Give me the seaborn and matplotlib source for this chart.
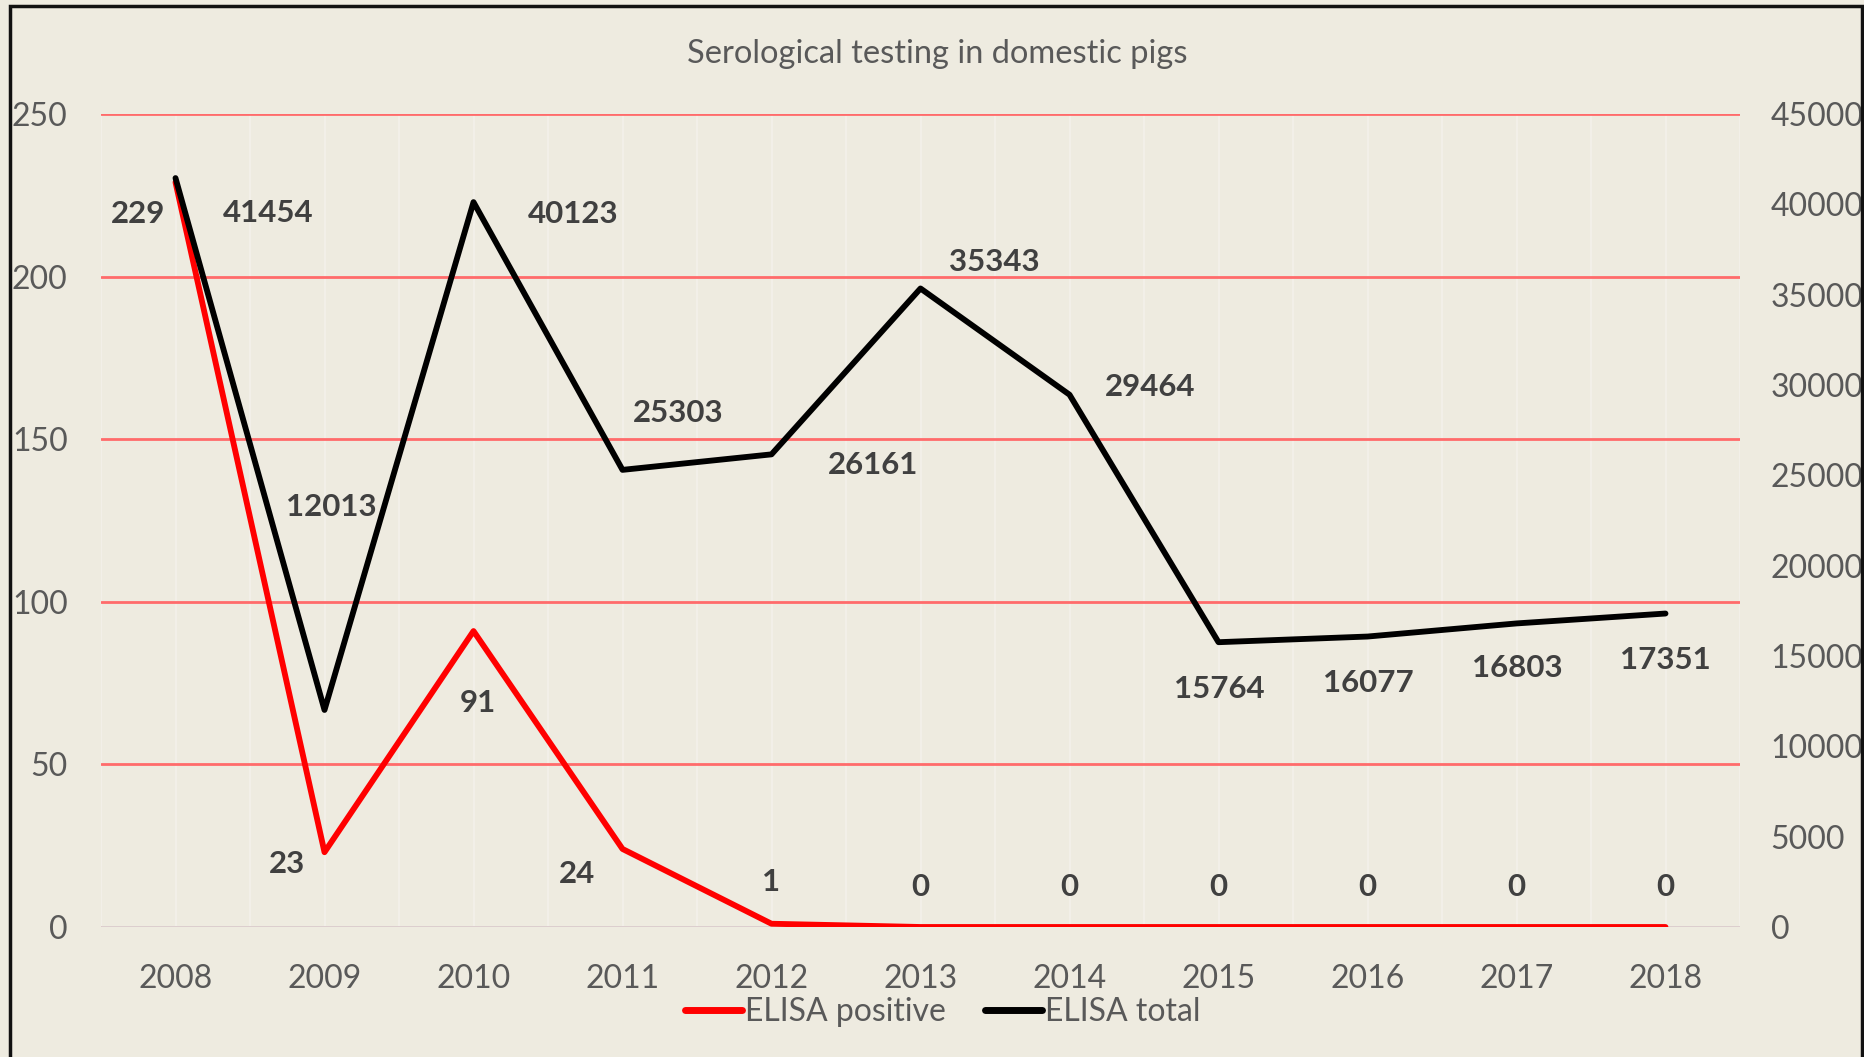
import matplotlib
matplotlib.use("Agg")
import matplotlib.pyplot as plt
import seaborn as sns
import pandas as pd
from matplotlib.patches import Rectangle
from matplotlib.lines import Line2D

years = [2008, 2009, 2010, 2011, 2012, 2013, 2014, 2015, 2016, 2017, 2018]
elisa_positive = [229, 23, 91, 24, 1, 0, 0, 0, 0, 0, 0]
elisa_total = [41454, 12013, 40123, 25303, 26161, 35343, 29464, 15764, 16077, 16803, 17351]
left_ticks = [0, 50, 100, 150, 200, 250]
right_ticks = [0, 5000, 10000, 15000, 20000, 25000, 30000, 35000, 40000, 45000]
title = "Serological testing in domestic pigs"
series_names = ["ELISA positive", "ELISA total"]

# label offsets in pixels (style only)
pos_offsets = [(-37, -32), (-37, -12), (4, -72), (-45, -25), (0, 42), (0, 40), (0, 40), (0, 40), (0, 40), (0, 40), (0, 40)]
tot_offsets = [(93, -35), (7, 203), (100, -12), (56, 57), (102, -11), (74, 26), (81, 8), (1, -47), (1, -46), (1, -45), (0, -46)]

BG = "#EEEBE0"
GREY = "#595959"
LABEL = "#404040"

sns.set_theme(style="white")
plt.rcParams['font.family'] = ['Lato', 'DejaVu Sans']

df = pd.DataFrame({"year": years, "pos": elisa_positive, "tot": elisa_total})

fig = plt.figure(figsize=(18.64, 10.57), dpi=100, facecolor=BG)
ax = fig.add_axes([101/1864, 1-927/1057, (1740-101)/1864, (927-114)/1057])
ax.set_facecolor(BG)
ax2 = ax.twinx()

# vertical faint grid
ax.set_xlim(2007.5, 2018.5)
ax.set_xticks(years)
ax.set_xticks([y + 0.5 for y in years] + [2007.5], minor=True)
ax.grid(axis="x", which="both", color="#F3F1EA", lw=1.2, zorder=0)
ax.grid(axis="y", which="major", color="#FF6B6B", lw=2, zorder=0)
ax.set_axisbelow(True)

ax.set_ylim(0, 250)
ax.set_yticks(left_ticks)
ax2.set_ylim(0, 45000)
ax2.set_yticks(right_ticks)

sns.lineplot(data=df, x="year", y="pos", ax=ax, color="#FF0000", lw=4.2, zorder=3)
sns.lineplot(data=df, x="year", y="tot", ax=ax2, color="#000000", lw=4.2, zorder=3)

for a in (ax, ax2):
    for s in a.spines.values():
        s.set_visible(False)
    a.set_xlabel("")
    a.set_ylabel("")
ax.axhline(0, color="#D9D9D9", lw=2, zorder=1)

ax.tick_params(axis="both", which="both", length=0, colors=GREY, labelsize=23)
ax.tick_params(axis="y", pad=24)
ax.tick_params(axis="x", pad=27)
ax2.tick_params(axis="y", length=0, colors=GREY, labelsize=23, pad=22)

for y, v, off in zip(years, elisa_positive, pos_offsets):
    ax.annotate(str(v), (y, v), xytext=off, textcoords="offset pixels",
                ha="center", va="center", fontsize=22.5, fontweight="bold", color=LABEL, zorder=5)
for y, v, off in zip(years, elisa_total, tot_offsets):
    ax2.annotate(str(v), (y, v), xytext=off, textcoords="offset pixels",
                 ha="center", va="center", fontsize=22.5, fontweight="bold", color=LABEL, zorder=5)

fig.text(788/1568, 1-45*1.189/1057, title, ha="center", va="center", fontsize=23.5, color=GREY)

handles = [Line2D([], [], color="#FF0000", lw=5), Line2D([], [], color="#000000", lw=5)]
fig.legend(handles, series_names, loc="center", bbox_to_anchor=(793/1568, 1-851*1.189/1057),
           ncol=2, frameon=False, fontsize=23, labelcolor=GREY, handlelength=1.8,
           handletextpad=0.1, columnspacing=1.2)

# outer frame
fig.patches.append(Rectangle((10/1864, -0.05), (1862-10)/1864, 1.05 - 6/1057, transform=fig.transFigure,
                             fill=False, edgecolor="#111111", lw=2.5, zorder=10))

fig.savefig("out.png", dpi=100, facecolor=BG)
